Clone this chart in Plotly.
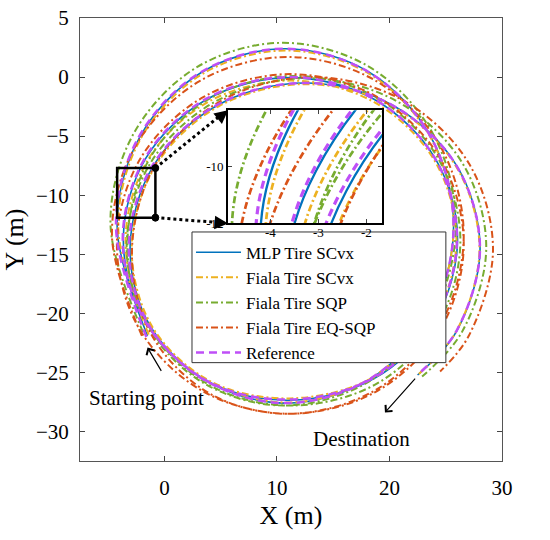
import plotly.graph_objects as go

# vehicle path samples (m), start -> destination
mlp_x = [-1.50, -4.20, -2.20, 3.28, 10.75, 18.23, 23.70, 25.70, 23.70, 18.23, 10.75, 3.45, -1.84,
         -3.65, -1.66, 3.78, 11.20, 18.63, 24.06, 26.05, 24.06, 18.63, 11.20, 4.10, -1.20,
         -3.05, -0.97, 4.73, 12.50, 20.28, 25.97, 28.05, 25.97, 22.50]
mlp_y = [-21.90, -12.60, -5.10, 0.39, 2.40, 0.39, -5.10, -12.60, -20.10, -25.59, -27.60, -25.57, -20.39,
         -13.70, -6.88, -1.88, -0.05, -1.88, -6.88, -13.70, -20.53, -25.52, -27.35, -25.88, -21.18,
         -14.50, -7.50, -2.38, -0.50, -2.38, -7.50, -14.50, -21.50, -25.22]

scvx_x = [-1.40, -4.10, -2.10, 3.35, 10.80, 18.25, 23.70, 25.70, 23.70, 18.25, 10.80, 3.53, -1.69,
          -3.45, -1.48, 3.90, 11.25, 18.60, 23.98, 25.95, 23.98, 18.60, 11.25, 4.21, -1.05,
          -2.90, -0.83, 4.83, 12.55, 20.28, 25.93, 28.00, 25.93, 22.48]
scvx_y = [-21.80, -12.65, -5.20, 0.25, 2.25, 0.25, -5.20, -12.65, -20.10, -25.55, -27.55, -25.50, -20.35,
          -13.75, -7.03, -2.10, -0.30, -2.10, -7.03, -13.75, -20.48, -25.40, -27.20, -25.81, -21.18,
          -14.55, -7.58, -2.47, -0.60, -2.47, -7.58, -14.55, -21.53, -25.24]

sqp_x = [-1.90, -4.79, -2.73, 2.89, 10.56, 18.24, 23.85, 25.91, 23.85, 18.24, 10.56, 3.30, -1.78,
         -3.28, -1.30, 4.12, 11.51, 18.91, 24.32, 26.30, 24.32, 18.91, 11.51, 4.29, -1.25,
         -3.36, -1.22, 4.63, 12.62, 20.61, 26.46, 28.60, 26.46, 22.90]
sqp_y = [-21.60, -12.45, -4.78, 0.84, 2.90, 0.84, -4.78, -12.45, -20.13, -25.74, -27.80, -25.80, -20.60,
         -13.85, -6.88, -1.77, 0.10, -1.77, -6.88, -13.85, -20.83, -25.93, -27.80, -26.22, -21.31,
         -14.40, -7.25, -2.02, -0.10, -2.02, -7.25, -14.40, -21.55, -25.35]

eqsqp_x = [-2.00, -4.66, -2.57, 3.16, 10.97, 18.79, 24.51, 26.60, 24.51, 18.79, 10.97, 3.27, -2.30,
           -4.22, -2.16, 3.49, 11.19, 18.90, 24.54, 26.60, 24.54, 18.90, 11.19, 4.04, -1.21,
           -2.88, -0.73, 5.14, 13.16, 21.18, 27.05, 29.20, 27.05, 24.50]
eqsqp_y = [-21.90, -13.40, -5.85, -0.32, 1.70, -0.32, -5.85, -13.40, -20.95, -26.48, -28.50, -26.51, -21.20,
           -14.13, -6.94, -1.68, 0.25, -1.68, -6.94, -14.13, -21.32, -26.58, -28.50, -26.80, -21.71,
           -14.60, -7.30, -1.96, 0.00, -1.96, -7.30, -14.60, -21.90, -24.92]

ref_x = [-1.60, -4.30, -2.29, 3.20, 10.70, 18.20, 23.69, 25.70, 23.69, 18.20, 10.70, 3.38, -1.90,
         -3.70, -1.71, 3.73, 11.15, 18.58, 24.01, 26.00, 24.01, 18.58, 11.15, 4.03, -1.28,
         -3.16, -1.07, 4.64, 12.44, 20.24, 25.95, 28.04, 25.95, 22.47]
ref_y = [-22.00, -12.60, -5.10, 0.39, 2.40, 0.39, -5.10, -12.60, -20.10, -25.59, -27.60, -25.55, -20.35,
         -13.65, -6.83, -1.83, 0.00, -1.83, -6.83, -13.65, -20.48, -25.47, -27.30, -25.85, -21.16,
         -14.50, -7.50, -2.38, -0.50, -2.38, -7.50, -14.50, -21.50, -25.22]

x_ticks = [0, 10, 20, 30]
y_ticks = [-30, -25, -20, -15, -10, -5, 0, 5]
inset_x_ticks = [-4, -3, -2]
inset_y_ticks = [-12, -10, -8]
inset_y_text = ['-12', '-10', '']

FONT = 'Liberation Serif, Times New Roman, serif'
dashdot = '7px,3px,2px,3px'

series = [
    ('MLP Tire SCvx', mlp_x, mlp_y, '#0072BD', 'solid', 1.6),
    ('Fiala Tire SCvx', scvx_x, scvx_y, '#EDB120', dashdot, 2),
    ('Fiala Tire SQP', sqp_x, sqp_y, '#77AC30', dashdot, 2),
    ('Fiala Tire EQ-SQP', eqsqp_x, eqsqp_y, '#D95319', dashdot, 2),
    ('Reference', ref_x, ref_y, '#BF4FF7', '8px,5px', 2.5),
]

fig = go.Figure()
for name, xs, ys, col, dash, w in series:
    fig.add_trace(go.Scatter(x=xs, y=ys, mode='lines', name=name,
                             line=dict(color=col, dash=dash, width=w, shape='spline')))
# zoomed inset, same data
for name, xs, ys, col, dash, w in series:
    fig.add_trace(go.Scatter(x=xs, y=ys, mode='lines', name=name, showlegend=False,
                             xaxis='x2', yaxis='y2', hoverinfo='skip',
                             line=dict(color=col, dash=dash, width=w + 0.7, shape='spline')))

axis_common = dict(ticks='inside', ticklen=5, mirror='ticks', showline=True,
                   linecolor='#555555', linewidth=1, showgrid=False, zeroline=False,
                   ticklabeloverflow='allow',
                   tickfont=dict(family=FONT, size=21, color='black'))

fig.update_layout(
    width=550, height=540,
    margin=dict(l=80, r=48, t=18, b=79),
    paper_bgcolor='white', plot_bgcolor='white',
    font=dict(family=FONT, color='black'),
    xaxis=dict(range=[-7.5, 30], tickvals=x_ticks, ticklabelstandoff=8,
               title=dict(text='X (m)', font=dict(size=26), standoff=6),
               automargin=False, **axis_common),
    yaxis=dict(range=[-32.5, 5], tickvals=y_ticks, ticklabelstandoff=6,
               title=dict(text='Y (m)', font=dict(size=26), standoff=4),
               automargin=False, **axis_common),
    xaxis2=dict(domain=[0.351, 0.716], anchor='y2', range=[-4.87, -1.68],
                tickvals=inset_x_ticks, showticklabels=False, ticks='inside', ticklen=4,
                mirror='ticks', showline=True, linecolor='black', linewidth=2,
                showgrid=False, zeroline=False),
    yaxis2=dict(domain=[0.537, 0.792], anchor='x2', range=[-12, -8],
                tickvals=inset_y_ticks, ticktext=inset_y_text, ticks='inside', ticklen=4,
                mirror='ticks', showline=True, linecolor='black', linewidth=2,
                showgrid=False, zeroline=False, ticklabeloverflow='allow',
                tickfont=dict(family=FONT, size=13, color='black')),
    legend=dict(x=0.263, y=0.511, xanchor='left', yanchor='top',
                bgcolor='rgba(0,0,0,0)', borderwidth=0,
                font=dict(family=FONT, size=17, color='black'),
                itemwidth=45, tracegroupgap=0),
    showlegend=True,
)

# legend frame (white box hiding the rings behind the legend)
fig.add_shape(type='rect', xref='paper', yref='paper', x0=0.2654, x1=0.867, y0=0.222, y1=0.517,
              fillcolor='white', line=dict(color='#333333', width=1), layer='above')

# zoom box and dotted connectors
fig.add_shape(type='rect', xref='x', yref='y', x0=-4.2, x1=-0.8, y0=-11.9, y1=-7.7,
              line=dict(color='black', width=2.5))
fig.add_shape(type='line', xref='x', yref='y', x0=-0.8, y0=-7.7, x1=5.3, y1=-3.0,
              line=dict(color='black', width=3, dash='dot'))
fig.add_shape(type='line', xref='x', yref='y', x0=-0.8, y0=-11.9, x1=5.3, y1=-12.35,
              line=dict(color='black', width=3, dash='dot'))
for cy in [-7.7, -11.9]:
    fig.add_shape(type='circle', xref='x', yref='y', x0=-1.1, x1=-0.5, y0=cy - 0.3, y1=cy + 0.3,
                  fillcolor='black', line=dict(color='black', width=1))

# arrowheads on connectors
fig.add_annotation(x=5.66, y=-2.8, xref='x', yref='y', ax=-11, ay=9, text='',
                   showarrow=True, arrowhead=2, arrowsize=0.9, arrowwidth=3, arrowcolor='black')
fig.add_annotation(x=5.66, y=-12.4, xref='x', yref='y', ax=-13, ay=-1, text='',
                   showarrow=True, arrowhead=2, arrowsize=0.9, arrowwidth=3, arrowcolor='black')

# inset x tick labels (kept above the legend box)
for t in inset_x_ticks:
    fig.add_annotation(x=t, y=0.537, xref='x2', yref='paper', yanchor='top', text=str(t),
                       showarrow=False, yshift=0, font=dict(family=FONT, size=13, color='black'))

# start / destination notes
fig.add_annotation(x=-1.5, y=-22.9, ax=-0.2, ay=-25.0, xref='x', yref='y', axref='x', ayref='y',
                   text='', showarrow=True, arrowhead=4, arrowsize=1.5, arrowwidth=1.2,
                   arrowcolor='black')
fig.add_annotation(x=19.6, y=-28.4, ax=22.4, ay=-25.4, xref='x', yref='y', axref='x', ayref='y',
                   text='', showarrow=True, arrowhead=4, arrowsize=1.5, arrowwidth=1.2,
                   arrowcolor='black')
fig.add_annotation(x=-1.55, y=-27.2, xref='x', yref='y', text='Starting point', showarrow=False,
                   font=dict(family=FONT, size=21, color='black'))
fig.add_annotation(x=17.5, y=-30.6, xref='x', yref='y', text='Destination', showarrow=False,
                   font=dict(family=FONT, size=21, color='black'))

# drop the default page margin so the figure sits at the window's corner
fig.write_html('out.html', config={'displayModeBar': False},
               post_script="document.body.style.margin='0';document.body.style.overflow='hidden';")
